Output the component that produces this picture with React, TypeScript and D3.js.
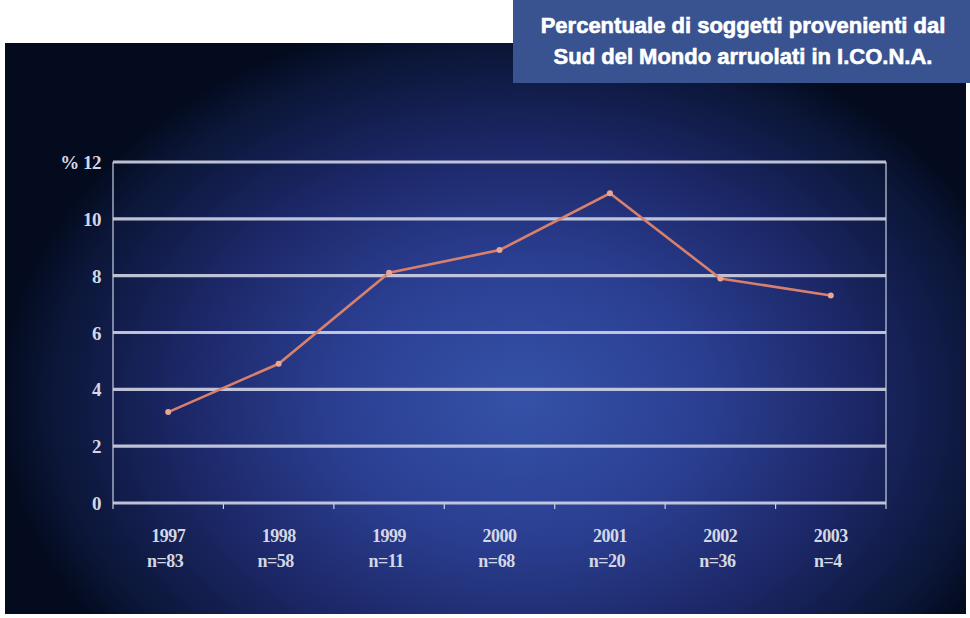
import React, { useEffect, useRef } from "react";
import * as d3 from "d3";

const years = ["1997", "1998", "1999", "2000", "2001", "2002", "2003"];
const sampleSizes = ["n=83", "n=58", "n=11", "n=68", "n=20", "n=36", "n=4"];
const percentages = [3.2, 4.9, 8.1, 8.9, 10.9, 7.9, 7.3];
const yTicks = [0, 2, 4, 6, 8, 10, 12];
const titleLines = [
  "Percentuale di soggetti provenienti dal",
  "Sud del Mondo arruolati in I.CO.N.A.",
];

const W = 970;
const H = 618;

const App = () => {
  const ref = useRef<SVGSVGElement>(null);

  useEffect(() => {
    const svg = d3.select(ref.current);
    svg.selectAll("*").remove();

    const defs = svg.append("defs");
    const grad = defs
      .append("radialGradient")
      .attr("id", "bg")
      .attr("gradientUnits", "userSpaceOnUse")
      .attr("cx", 520)
      .attr("cy", 400)
      .attr("r", 520)
      .attr("gradientTransform", "translate(520,400) scale(1,0.75) translate(-520,-400)");
    grad.append("stop").attr("offset", "0%").attr("stop-color", "#3452a8");
    grad.append("stop").attr("offset", "35%").attr("stop-color", "#2b3f92");
    grad.append("stop").attr("offset", "65%").attr("stop-color", "#1c2767");
    grad.append("stop").attr("offset", "90%").attr("stop-color", "#0b1638");
    grad.append("stop").attr("offset", "100%").attr("stop-color", "#040b1f");

    // panel background
    svg
      .append("rect")
      .attr("x", 5)
      .attr("y", 43)
      .attr("width", 961)
      .attr("height", 571)
      .attr("fill", "url(#bg)");

    const left = 113;
    const right = 886;
    const top = 162;
    const bottom = 503;

    const x = d3.scaleBand().domain(years).range([left, right]);
    const y = d3.scaleLinear().domain([0, 12]).range([bottom, top]);

    const g = svg.append("g");

    // gridlines
    g.selectAll(".grid")
      .data(yTicks)
      .enter()
      .append("line")
      .attr("x1", left)
      .attr("x2", right)
      .attr("y1", (d) => y(d))
      .attr("y2", (d) => y(d))
      .attr("stroke", "#cfd4e4")
      .attr("stroke-opacity", 0.9)
      .attr("stroke-width", 3.2);

    // axis lines
    g.append("line")
      .attr("x1", left)
      .attr("x2", left)
      .attr("y1", top)
      .attr("y2", bottom + 6)
      .attr("stroke", "#c9cfe0")
      .attr("stroke-width", 1.2);
    g.append("line")
      .attr("x1", right)
      .attr("x2", right)
      .attr("y1", top)
      .attr("y2", bottom)
      .attr("stroke", "#c9cfe0")
      .attr("stroke-width", 1.2);

    // x ticks between categories
    g.selectAll(".xtick")
      .data(years)
      .enter()
      .append("line")
      .attr("x1", (d) => (x(d) as number) + x.bandwidth())
      .attr("x2", (d) => (x(d) as number) + x.bandwidth())
      .attr("y1", bottom)
      .attr("y2", bottom + 6)
      .attr("stroke", "#c9cfe0")
      .attr("stroke-width", 1.2);

    const fontSerif = "'Liberation Serif', 'DejaVu Serif', serif";

    // y labels
    g.selectAll(".ylab")
      .data(yTicks)
      .enter()
      .append("text")
      .attr("x", 101)
      .attr("y", (d) => y(d) + 7)
      .attr("text-anchor", "end")
      .attr("font-family", fontSerif)
      .attr("font-weight", "bold")
      .attr("font-size", 19)
      .attr("letter-spacing", -0.5)
      .attr("fill", "#d4d8e4")
      .text((d) => (d === 12 ? "% 12" : String(d)));

    // x labels
    const xl = g
      .selectAll(".xlab")
      .data(years)
      .enter()
      .append("text")
      .attr("text-anchor", "middle")
      .attr("font-family", fontSerif)
      .attr("font-weight", "bold")
      .attr("font-size", 18)
      .attr("letter-spacing", -0.5)
      .attr("fill", "#d4d8e4");
    xl.append("tspan")
      .attr("x", (d) => (x(d) as number) + x.bandwidth() / 2)
      .attr("y", 542)
      .text((d) => d);
    xl.append("tspan")
      .attr("x", (d, i) => (x(years[i]) as number) + x.bandwidth() / 2 - 3)
      .attr("y", 567)
      .text((d, i) => sampleSizes[i]);

    // line
    const line = d3
      .line<number>()
      .x((d, i) => (x(years[i]) as number) + x.bandwidth() / 2)
      .y((d) => y(d));
    g.append("path")
      .datum(percentages)
      .attr("d", line)
      .attr("fill", "none")
      .attr("stroke", "#d9806c")
      .attr("stroke-width", 2.6);

    g.selectAll(".pt")
      .data(percentages)
      .enter()
      .append("circle")
      .attr("cx", (d, i) => (x(years[i]) as number) + x.bandwidth() / 2)
      .attr("cy", (d) => y(d))
      .attr("r", 3)
      .attr("fill", "#e9a595");

    // title box
    svg
      .append("rect")
      .attr("x", 513)
      .attr("y", 0)
      .attr("width", 457)
      .attr("height", 83)
      .attr("fill", "#38538f");
    svg
      .selectAll(".title")
      .data(titleLines)
      .enter()
      .append("text")
      .attr("x", 743)
      .attr("y", (d, i) => 33 + i * 31)
      .attr("text-anchor", "middle")
      .attr("font-family", "'Liberation Sans', Arial, sans-serif")
      .attr("font-weight", "bold")
      .attr("font-size", 22)
      .attr("stroke", "#ffffff")
      .attr("stroke-width", 0.6)
      .attr("fill", "#ffffff")
      .text((d) => d);
  });

  return (
    <svg
      ref={ref}
      width={W}
      height={H}
      style={{ position: "absolute", left: 0, top: 0, display: "block", background: "#ffffff" }}
    />
  );
};

export default App;
